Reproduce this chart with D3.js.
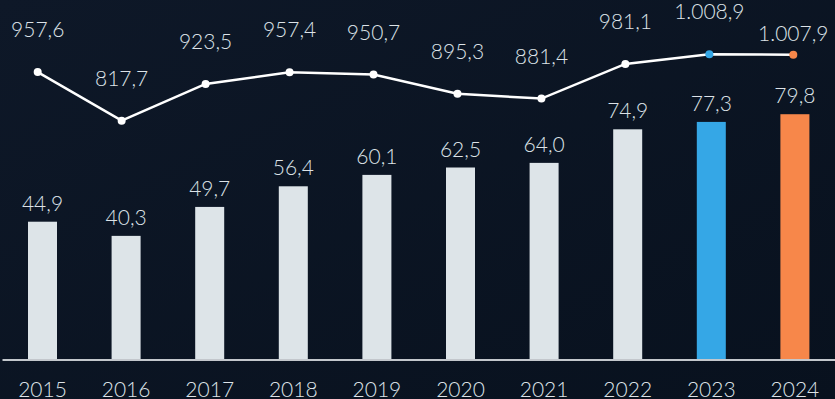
<!DOCTYPE html>
<html>
<head>
<meta charset="utf-8">
<script src="https://cdn.jsdelivr.net/npm/d3@7"></script>
<style>
  html, body { margin: 0; padding: 0; background: #0b1422; }
  svg { display: block; }
  text { font-family: Lato, "Open Sans", sans-serif; font-weight: 300; fill: #dde3e8; }
</style>
</head>
<body>
<svg></svg>
<script>
let years = ["2015", "2016", "2017", "2018", "2019", "2020", "2021", "2022", "2023", "2024"];
let barValues = [44.9, 40.3, 49.7, 56.4, 60.1, 62.5, 64.0, 74.9, 77.3, 79.8];
let lineValues = [957.6, 817.7, 923.5, 957.4, 950.7, 895.3, 881.4, 981.1, 1008.9, 1007.9];
let barColors = ["#dde4e8", "#dde4e8", "#dde4e8", "#dde4e8", "#dde4e8", "#dde4e8", "#dde4e8", "#dde4e8", "#35a7e6", "#f7874a"];
let dotColors = ["#fff", "#fff", "#fff", "#fff", "#fff", "#fff", "#fff", "#fff", "#35a7e6", "#f7874a"];

let width = 835;
let height = 399;
let baseline = 360;

// german style numbers: 1.008,9
let fmt = d3.formatLocale({decimal: ",", thousands: ".", grouping: [3], currency: ["", "€"]}).format(",.1f");

let svg = d3.select("svg")
            .attr("width", width)
            .attr("height", height);

let defs = svg.append("defs");
let grad = defs.append("linearGradient")
               .attr("id", "bg")
               .attr("x1", 0).attr("y1", 0)
               .attr("x2", 1).attr("y2", 1);
grad.append("stop").attr("offset", "0%").attr("stop-color", "#0e1828");
grad.append("stop").attr("offset", "100%").attr("stop-color", "#08111e");

svg.append("rect")
   .attr("width", width)
   .attr("height", height)
   .attr("fill", "url(#bg)");

let xScale = d3.scaleBand()
               .domain(years)
               .range([0.7, 836.7])
               .paddingInner(0.653)
               .paddingOuter(0.3265);

// the line sits on its own slightly shifted grid
let xLine = d3.scalePoint()
              .domain(years)
              .range([37.7, 793.3]);

let yScale = d3.scaleLinear()
               .domain([0, 100])
               .range([baseline, baseline - 308]);

let yLine = d3.scaleLinear()
              .domain([817.7, 1008.9])
              .range([120.7, 54.3]);

let bars = years.map((y, i) => ({year: y, value: barValues[i], color: barColors[i]}));
let points = years.map((y, i) => ({year: y, value: lineValues[i], color: dotColors[i]}));

// bars
svg.selectAll(".bar")
   .data(bars)
   .enter()
   .append("rect")
     .classed("bar", true)
     .attr("x", d => xScale(d.year))
     .attr("y", d => yScale(d.value))
     .attr("width", xScale.bandwidth())
     .attr("height", d => baseline - yScale(d.value))
     .attr("fill", d => d.color);

// bar labels
svg.selectAll(".bar-label")
   .data(bars)
   .enter()
   .append("text")
     .classed("bar-label", true)
     .attr("x", d => xScale(d.year) + xScale.bandwidth() / 2)
     .attr("y", d => yScale(d.value) - 11)
     .attr("text-anchor", "middle")
     .style("font-size", "21px")
     .text(d => fmt(d.value));

// x axis
let xAxis = svg.append("g")
   .attr("transform", `translate(0,${baseline})`)
   .call(d3.axisBottom(xScale).tickSize(0).tickPadding(22));
xAxis.select(".domain")
     .attr("d", `M2.5,0H${width}`)
     .attr("stroke", "#c3c7cc")
     .attr("stroke-width", 2);
xAxis.selectAll("text")
     .attr("fill", "#dde3e8")
     .style("font-size", "21px")
     .style("font-family", "Lato, 'Open Sans', sans-serif")
     .style("font-weight", 300);

// line
svg.append("path")
   .datum(points)
   .attr("fill", "none")
   .attr("stroke", "#fff")
   .attr("stroke-width", 2.5)
   .attr("d", d3.line().x(d => xLine(d.year)).y(d => yLine(d.value)));

svg.selectAll(".dot")
   .data(points)
   .enter()
   .append("circle")
     .classed("dot", true)
     .attr("cx", d => xLine(d.year))
     .attr("cy", d => yLine(d.value))
     .attr("r", 4)
     .attr("fill", d => d.color);

// line labels, last one sits closer to its point
svg.selectAll(".line-label")
   .data(points)
   .enter()
   .append("text")
     .classed("line-label", true)
     .attr("x", d => xLine(d.year))
     .attr("y", (d, i) => yLine(d.value) - (i === points.length - 1 ? 14 : 35))
     .attr("text-anchor", "middle")
     .style("font-size", "21px")
     .text(d => fmt(d.value));
</script>
</body>
</html>
